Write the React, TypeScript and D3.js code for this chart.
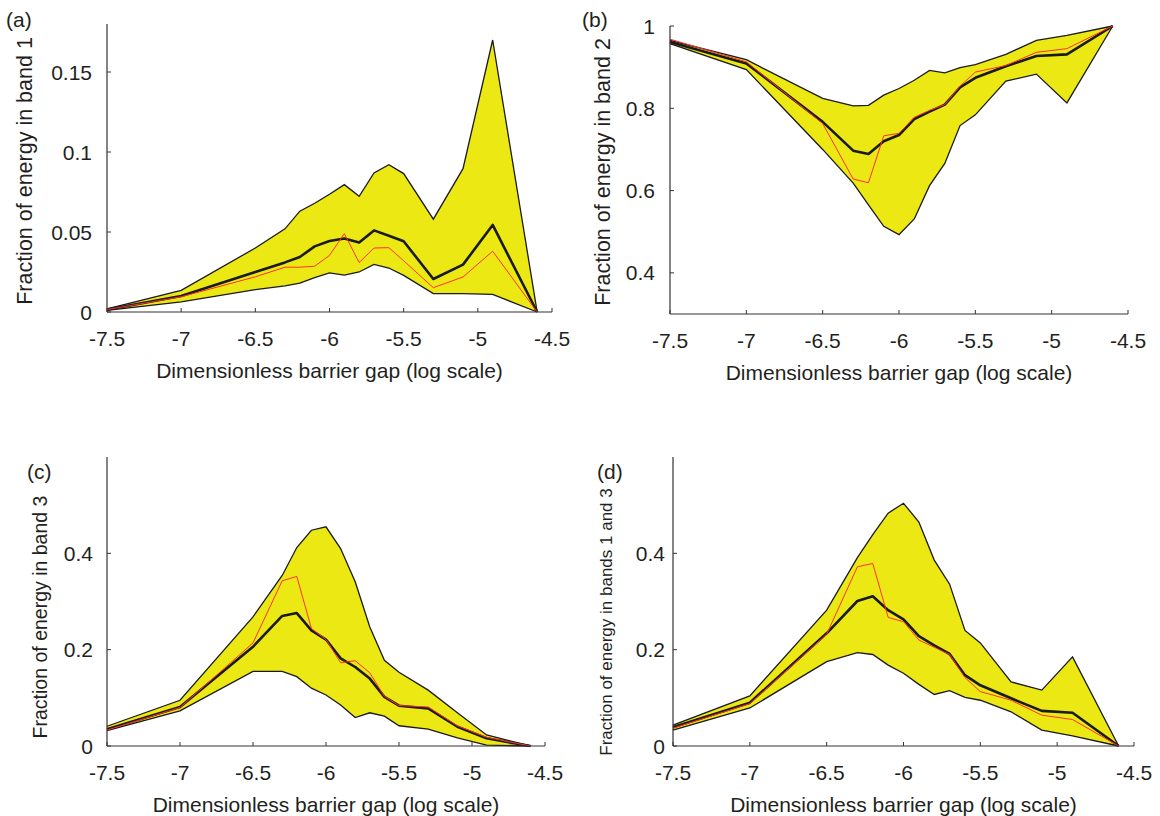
import React from 'react'
import * as d3 from 'd3'

// log10 of the barrier gap, shared by all four panels
const gaps = [-7.5, -7, -6.5, -6.3, -6.2, -6.1, -6.0, -5.9, -5.8, -5.7, -5.6, -5.5, -5.3, -5.1, -4.9, -4.6]

const band1Upper = [0.002, 0.0135, 0.040, 0.052, 0.063, 0.068, 0.0736, 0.0796, 0.0723, 0.0869, 0.0921, 0.0865, 0.058, 0.0896, 0.170, 0]
const band1Mean = [0.0015, 0.010, 0.025, 0.031, 0.0344, 0.041, 0.0444, 0.0459, 0.0434, 0.051, 0.0477, 0.0442, 0.0206, 0.0296, 0.0544, 0]
const band1Ref = [0.0015, 0.0095, 0.022, 0.028, 0.028, 0.0286, 0.0354, 0.049, 0.0309, 0.040, 0.0402, 0.032, 0.0152, 0.0219, 0.038, 0]
const band1Lower = [0.001, 0.0063, 0.014, 0.0163, 0.018, 0.0215, 0.0244, 0.0231, 0.025, 0.0298, 0.0275, 0.0229, 0.0115, 0.0115, 0.011, 0]

const band2Upper = [0.965, 0.918, 0.824, 0.806, 0.807, 0.832, 0.848, 0.868, 0.892, 0.886, 0.899, 0.906, 0.931, 0.965, 0.977, 1.0]
const band2Mean = [0.961, 0.909, 0.767, 0.697, 0.689, 0.72, 0.735, 0.774, 0.792, 0.809, 0.851, 0.874, 0.902, 0.927, 0.931, 1.0]
const band2Ref = [0.968, 0.913, 0.763, 0.628, 0.619, 0.733, 0.739, 0.778, 0.795, 0.809, 0.854, 0.888, 0.904, 0.936, 0.945, 1.0]
const band2Lower = [0.957, 0.894, 0.70, 0.618, 0.565, 0.513, 0.493, 0.531, 0.612, 0.666, 0.758, 0.784, 0.866, 0.883, 0.813, 1.0]

const band3Upper = [0.041, 0.095, 0.268, 0.354, 0.412, 0.448, 0.455, 0.41, 0.341, 0.247, 0.178, 0.153, 0.116, 0.069, 0.023, 0]
const band3Mean = [0.035, 0.081, 0.206, 0.27, 0.276, 0.24, 0.221, 0.182, 0.164, 0.14, 0.102, 0.0836, 0.078, 0.04, 0.016, 0]
const band3Ref = [0.033, 0.08, 0.214, 0.343, 0.352, 0.244, 0.221, 0.173, 0.177, 0.152, 0.103, 0.084, 0.081, 0.042, 0.018, 0]
const band3Lower = [0.032, 0.073, 0.155, 0.155, 0.144, 0.12, 0.106, 0.085, 0.059, 0.069, 0.062, 0.042, 0.035, 0.017, 0.002, 0]

const band13Upper = [0.0435, 0.104, 0.282, 0.391, 0.439, 0.4835, 0.504, 0.465, 0.386, 0.336, 0.24, 0.214, 0.133, 0.116, 0.185, 0]
const band13Mean = [0.039, 0.09, 0.234, 0.301, 0.311, 0.282, 0.263, 0.228, 0.209, 0.191, 0.147, 0.126, 0.099, 0.073, 0.069, 0]
const band13Ref = [0.037, 0.088, 0.232, 0.372, 0.379, 0.267, 0.258, 0.22, 0.205, 0.19, 0.142, 0.113, 0.095, 0.064, 0.055, 0]
const band13Lower = [0.033, 0.079, 0.175, 0.194, 0.19, 0.168, 0.151, 0.128, 0.107, 0.115, 0.101, 0.095, 0.071, 0.033, 0.021, 0]

const xTicks = [-7.5, -7, -6.5, -6, -5.5, -5, -4.5]
const ticksBand1 = [0, 0.05, 0.1, 0.15]
const ticksBand2 = [0.4, 0.6, 0.8, 1]
const ticksBand3 = [0, 0.2, 0.4]

const FONT = '"Liberation Sans", Arial, Helvetica, sans-serif'
const INK = '#231f20'
const FS = 21

function Panel(props) {
    const { tag, ylabel, upper, mean, ref, lower, yDomain, yTicks, left, right, top, bottom, labelGap, ylabelX, ylabelY, ylabelSize, tagX, tagY } = props

    const x = d3.scaleLinear().domain([-7.5, -4.5]).range([left, right])
    const y = d3.scaleLinear().domain(yDomain).range([bottom, top])

    const idx = d3.range(gaps.length)
    const band = d3.area()
        .x((i) => x(gaps[i]))
        .y0((i) => y(lower[i]))
        .y1((i) => y(upper[i]))
    const line = (vals) => d3.line()
        .x((i) => x(gaps[i]))
        .y((i) => y(vals[i]))(idx)

    return (
        <g fontFamily={FONT} fill={INK}>
            <path d={band(idx)} fill="#ece813" stroke="none" />
            <path d={line(upper)} fill="none" stroke="#1a1a1a" strokeWidth={1.3} />
            <path d={line(lower)} fill="none" stroke="#1a1a1a" strokeWidth={1.3} />
            <path d={line(mean)} fill="none" stroke="#1a1a1a" strokeWidth={2.6} strokeLinejoin="round" />
            <path d={line(ref)} fill="none" stroke="#ff3030" strokeWidth={1} />

            <line x1={left} x2={left} y1={top} y2={bottom} stroke="#333" strokeWidth={1.2} />
            <line x1={left} x2={right} y1={bottom} y2={bottom} stroke="#333" strokeWidth={1.2} />
            {yTicks.map((t) => (
                <g key={'y' + t}>
                    <line x1={left} x2={left + 4} y1={y(t)} y2={y(t)} stroke="#333" />
                    <text x={left - labelGap} y={y(t)} dy="0.36em" textAnchor="end" fontSize={FS}>{String(t)}</text>
                </g>
            ))}
            {xTicks.map((t) => (
                <g key={'x' + t}>
                    <line x1={x(t)} x2={x(t)} y1={bottom} y2={bottom - 4} stroke="#333" />
                    <text x={x(t)} y={bottom + 34} textAnchor="middle" fontSize={FS}>{String(t)}</text>
                </g>
            ))}
            <text x={(left + right) / 2} y={bottom + 66} textAnchor="middle" fontSize={FS}>
                Dimensionless barrier gap (log scale)
            </text>
            <text transform={`translate(${ylabelX}, ${ylabelY}) rotate(-90)`} textAnchor="middle" fontSize={ylabelSize}>
                {ylabel}
            </text>
            <text x={tagX} y={tagY} fontSize={FS}>{tag}</text>
        </g>
    )
}

export default function App() {
    return (
        <div style={{ position: 'absolute', left: 0, top: 0 }}>
            <svg width={1160} height={816} style={{ display: 'block', background: '#fff' }}>
                <Panel tag="(a)" ylabel="Fraction of energy in band 1"
                    upper={band1Upper} mean={band1Mean} ref={band1Ref} lower={band1Lower}
                    yDomain={[0, 0.18]} yTicks={ticksBand1}
                    left={107} right={552} top={24} bottom={312} labelGap={15}
                    ylabelX={32} ylabelY={171} ylabelSize={21.5} tagX={6} tagY={27} />
                <Panel tag="(b)" ylabel="Fraction of energy in band 2"
                    upper={band2Upper} mean={band2Mean} ref={band2Ref} lower={band2Lower}
                    yDomain={[0.3, 1]} yTicks={ticksBand2}
                    left={670} right={1128} top={26} bottom={314} labelGap={15}
                    ylabelX={610} ylabelY={172} ylabelSize={21.5} tagX={582} tagY={27} />
                <Panel tag="(c)" ylabel="Fraction of energy in band 3"
                    upper={band3Upper} mean={band3Mean} ref={band3Ref} lower={band3Lower}
                    yDomain={[0, 0.6]} yTicks={ticksBand3}
                    left={107} right={545} top={457} bottom={746} labelGap={14}
                    ylabelX={47} ylabelY={617} ylabelSize={19.5} tagX={27} tagY={479} />
                <Panel tag="(d)" ylabel="Fraction of energy in bands 1 and 3"
                    upper={band13Upper} mean={band13Mean} ref={band13Ref} lower={band13Lower}
                    yDomain={[0, 0.6]} yTicks={ticksBand3}
                    left={673} right={1134} top={457} bottom={746} labelGap={8}
                    ylabelX={612} ylabelY={622} ylabelSize={17} tagX={597} tagY={479} />
            </svg>
        </div>
    )
}
